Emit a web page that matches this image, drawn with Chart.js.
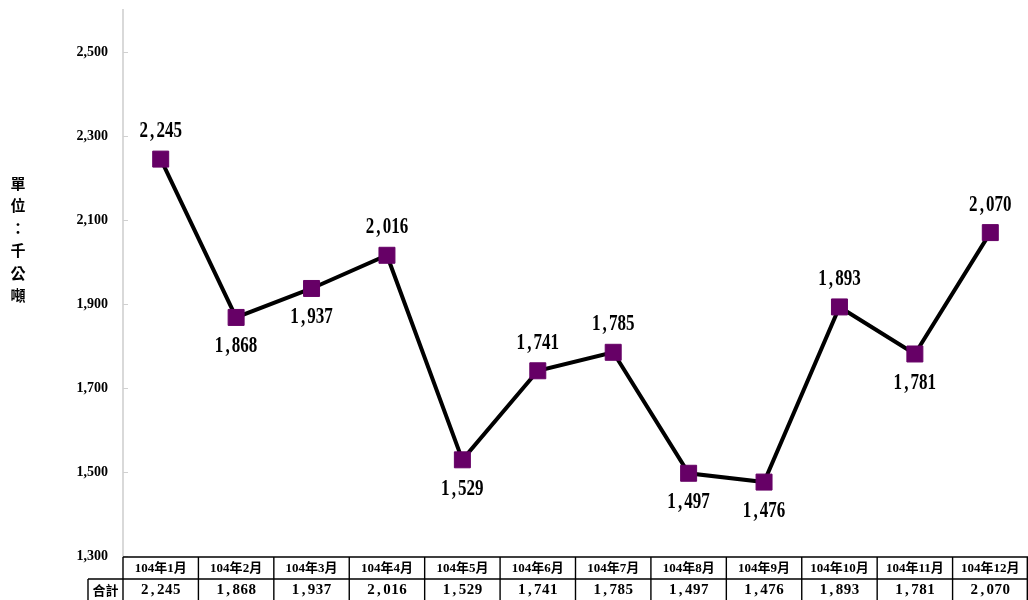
<!DOCTYPE html>
<html>
<head>
<meta charset="utf-8">
<script src="https://cdn.jsdelivr.net/npm/chart.js@4.4.1/dist/chart.umd.min.js"></script>
<style>
html,body{margin:0;padding:0;background:#fff;}
#wrap{width:1028px;height:600px;}
</style>
</head>
<body>
<div id="wrap"><canvas id="c" width="1028" height="600"></canvas></div>
<script>
const categories = ['104年1月','104年2月','104年3月','104年4月','104年5月','104年6月','104年7月','104年8月','104年9月','104年10月','104年11月','104年12月'];
const totals = [2245, 1868, 1937, 2016, 1529, 1741, 1785, 1497, 1476, 1893, 1781, 2070];
const rowLabel = '合計';
const axisTitle = '單位：千公噸';
const yTicks = [1300, 1500, 1700, 1900, 2100, 2300, 2500];

const fmt = v => v.toLocaleString('en-US');

// draw text with each character in a fixed-width cell (mimics a monospaced serif font)
function drawMono(ctx, text, cx, cy, font, cell, sx) {
  ctx.save();
  ctx.font = font;
  ctx.textAlign = 'center';
  ctx.textBaseline = 'middle';
  ctx.fillStyle = '#000';
  ctx.translate(cx, cy);
  ctx.scale(sx, 1);
  const c = cell / sx;
  const total = c * text.length;
  for (let i = 0; i < text.length; i++) {
    ctx.fillText(text[i], -total / 2 + c * (i + 0.5), 0);
  }
  ctx.restore();
}

const extras = {
  id: 'extras',
  afterDraw(chart) {
    const ctx = chart.ctx;
    const xs = chart.scales.x, ys = chart.scales.y;
    const area = chart.chartArea;
    // inner tick marks on y axis
    ctx.save();
    ctx.strokeStyle = '#d0d0d0';
    ctx.lineWidth = 1;
    yTicks.forEach(v => {
      const y = Math.round(ys.getPixelForValue(v)) + 0.5;
      ctx.beginPath(); ctx.moveTo(area.left, y); ctx.lineTo(area.left + 5, y); ctx.stroke();
    });
    ctx.restore();

    // y axis title, stacked characters
    ctx.save();
    ctx.font = 'bold 15px "Noto Sans CJK TC"';
    ctx.textAlign = 'center';
    ctx.textBaseline = 'middle';
    ctx.fillStyle = '#000';
    [...axisTitle].forEach((ch, i) => ctx.fillText(ch, 18, 183 + i * 22.5));
    ctx.restore();

    // data labels
    const meta = chart.getDatasetMeta(0);
    meta.data.forEach((pt, i) => {
      const v = totals[i];
      const prev = i > 0 ? totals[i - 1] : null;
      const next = i < totals.length - 1 ? totals[i + 1] : null;
      const nb = [prev, next].filter(n => n !== null);
      const avg = nb.reduce((a, b) => a + b, 0) / nb.length;
      const above = v >= avg;
      drawMono(ctx, fmt(v), pt.x, pt.y + (above ? -28 : 29), 'bold 23px "Liberation Serif"', 8.5, 0.74);
    });

    // data table
    const half = (xs.getPixelForValue(1) - xs.getPixelForValue(0)) / 2;
    const top = area.bottom + 1, mid = area.bottom + 23, bot = 600;
    const right = xs.getPixelForValue(categories.length - 1) + half;
    ctx.save();
    ctx.strokeStyle = '#000';
    ctx.lineWidth = 1.4;
    ctx.beginPath();
    ctx.moveTo(area.left, top); ctx.lineTo(right, top);
    ctx.moveTo(88, mid); ctx.lineTo(right, mid);
    ctx.moveTo(88, mid); ctx.lineTo(88, bot);
    for (let i = 0; i <= categories.length; i++) {
      const bx = i < categories.length ? xs.getPixelForValue(i) - half : right - 0.7;
      ctx.moveTo(bx, top); ctx.lineTo(bx, bot);
    }
    ctx.stroke();
    ctx.restore();

    ctx.save();
    ctx.fillStyle = '#000';
    ctx.textAlign = 'center';
    ctx.textBaseline = 'middle';
    ctx.font = 'bold 13px "Liberation Serif", "Noto Sans CJK TC"';
    categories.forEach((c, i) => ctx.fillText(c, xs.getPixelForValue(i), (top + mid) / 2 + 1));
    ctx.font = 'bold 13px "Noto Sans CJK TC"';
    ctx.fillText(rowLabel, (88 + area.left) / 2, (mid + bot) / 2 + 1);
    ctx.restore();
    totals.forEach((v, i) => drawMono(ctx, fmt(v), xs.getPixelForValue(i), (mid + bot) / 2 + 1, 'bold 15px "Liberation Serif"', 8, 1));
  }
};

new Chart(document.getElementById('c'), {
  type: 'line',
  data: {
    labels: categories,
    datasets: [{
      data: totals,
      borderColor: '#000',
      borderWidth: 4,
      pointStyle: 'rect',
      pointRadius: 11.3,
      pointHoverRadius: 11.3,
      pointBackgroundColor: '#660066',
      pointBorderColor: '#660066',
      pointBorderWidth: 1,
      tension: 0,
      clip: false
    }]
  },
  options: {
    responsive: false,
    animation: false,
    devicePixelRatio: 1,
    layout: { autoPadding: false, padding: { left: 0, right: 0, top: 10, bottom: 44 } },
    plugins: { legend: { display: false }, tooltip: { enabled: false } },
    scales: {
      x: {
        display: false,
        offset: true
      },
      y: {
        min: 1300,
        max: 2600,
        afterBuildTicks: s => { s.ticks = yTicks.map(v => ({ value: v })); },
        afterFit: s => { s.width = 123; s.paddingTop = 0; s.paddingBottom = 0; },
        border: { display: true, color: '#d9d9d9', width: 2 },
        grid: { display: true, drawOnChartArea: false, drawTicks: false },
        ticks: {
          padding: 15,
          color: '#000',
          font: { family: '"Liberation Serif"', size: 14, weight: 'bold' },
          callback: v => fmt(v)
        }
      }
    }
  },
  plugins: [extras]
});
</script>
</body>
</html>
